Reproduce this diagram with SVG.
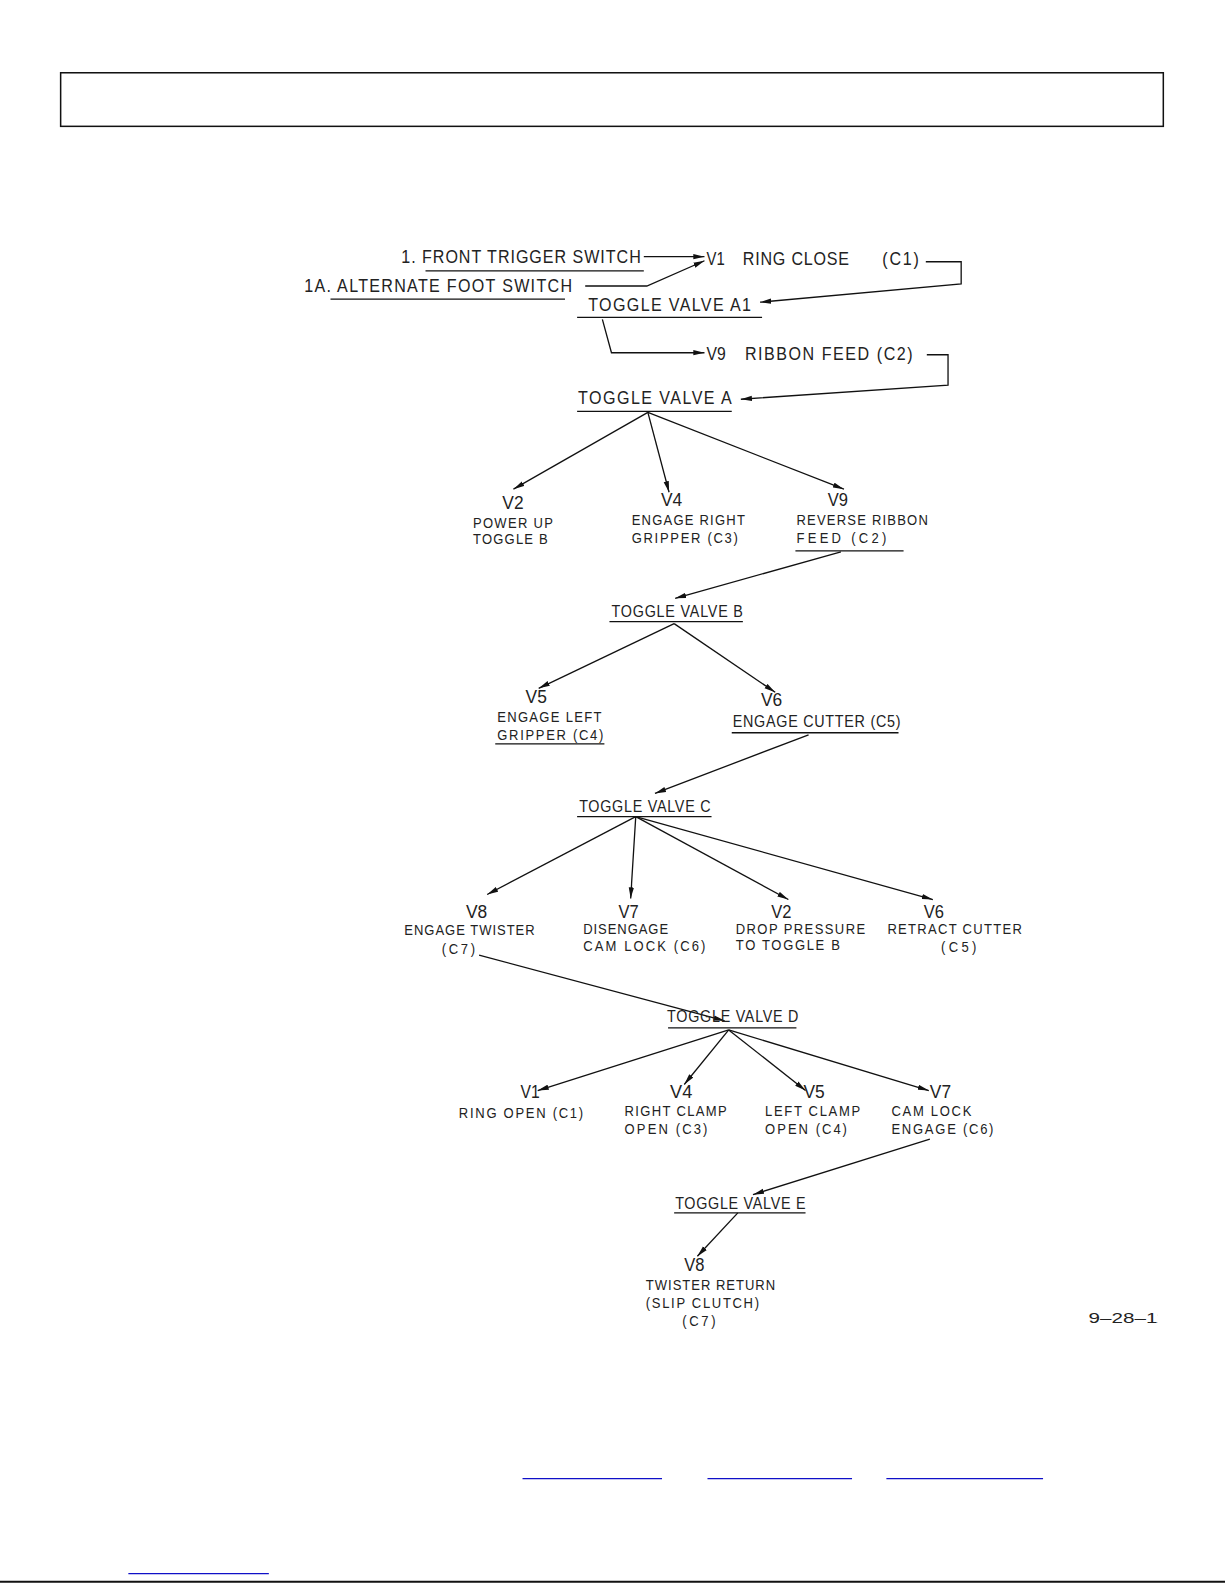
<svg xmlns="http://www.w3.org/2000/svg" width="1225" height="1585" viewBox="0 0 1225 1585">
<style>
text{font-family:"Liberation Sans",Arial,sans-serif;fill:#222;}
.lg{font-size:18.5px;}
.md{font-size:16.5px;}
.sm{font-size:15px;}
.ul{stroke:#111;stroke-width:1.3;fill:none;}
.cn{stroke:#111;stroke-width:1.3;fill:none;marker-end:url(#ah);}
.bl{stroke:#1010c8;stroke-width:1.3;}
</style>
<defs>
<marker id="ah" markerUnits="userSpaceOnUse" markerWidth="12" markerHeight="6" refX="11" refY="3" orient="auto">
<path d="M0,0.4 L11,3 L0,5.6 Z" fill="#111"/>
</marker>
<clipPath id="dclip"><rect x="1000" y="1280" width="145" height="40"/></clipPath>
</defs>
<rect width="1225" height="1585" fill="#fff"/>
<g transform="scale(1.0107)">
<g id="header"><rect x="60" y="72" width="1091" height="53" fill="none" stroke="#111" stroke-width="1.5"/></g>

<g id="connectors">
<path class="cn" d="M637,254 L697,254"/>
<path class="cn" d="M579,283 L640,283 L697,258"/>
<path class="cn" d="M916,259 L951,259 L951,281 L752,299"/>
<path class="cn" d="M596,316 L605,349 L697,349"/>
<path class="cn" d="M917,351 L938,351 L938,381 L733,395"/>
<path class="cn" d="M641,408 L508,484"/>
<path class="cn" d="M641,408 L662,487"/>
<path class="cn" d="M641,408 L835,484"/>
<path class="cn" d="M832,546 L668,592"/>
<path class="cn" d="M667,617 L533,681"/>
<path class="cn" d="M667,617 L767,685"/>
<path class="cn" d="M800,727 L648,785"/>
<path class="cn" d="M629,808 L482,885"/>
<path class="cn" d="M629,808 L624,889"/>
<path class="cn" d="M629,808 L780,890"/>
<path class="cn" d="M629,808 L923,890"/>
<path class="cn" d="M474,945 L717,1010"/>
<path class="cn" d="M721,1019 L532,1079"/>
<path class="cn" d="M721,1019 L677,1073"/>
<path class="cn" d="M721,1019 L797,1079"/>
<path class="cn" d="M721,1019 L919,1079"/>
<path class="cn" d="M920,1127 L745,1182"/>
<path class="cn" d="M730,1200 L690,1243"/>
</g>

<g id="front-trigger">
<text class="lg" transform="translate(397,260) scale(0.86,1)" textLength="275.6" lengthAdjust="spacing">1. FRONT TRIGGER SWITCH</text>
<line class="ul" x1="421" y1="268" x2="637" y2="268"/>
</g>
<g id="foot-switch">
<text class="lg" transform="translate(301,289) scale(0.86,1)" textLength="308.1" lengthAdjust="spacing">1A. ALTERNATE FOOT SWITCH</text>
<line class="ul" x1="327" y1="296" x2="559" y2="296"/>
</g>
<g id="v1-ring-close">
<text class="lg" x="699" y="262" textLength="18" lengthAdjust="spacingAndGlyphs">V1</text>
<text class="lg" transform="translate(735,262) scale(0.86,1)" textLength="122.1" lengthAdjust="spacing">RING CLOSE</text>
<text class="lg" transform="translate(873,262) scale(0.86,1)" textLength="41.9" lengthAdjust="spacing">(C1)</text>
</g>
<g id="toggle-a1">
<text class="lg" transform="translate(582,308) scale(0.86,1)" textLength="187.2" lengthAdjust="spacing">TOGGLE VALVE A1</text>
<line class="ul" x1="571" y1="314" x2="754" y2="314"/>
</g>
<g id="v9-ribbon-feed">
<text class="lg" x="699" y="356" textLength="19" lengthAdjust="spacingAndGlyphs">V9</text>
<text class="lg" transform="translate(737,356) scale(0.86,1)" textLength="193" lengthAdjust="spacing">RIBBON FEED (C2)</text>
</g>
<g id="toggle-a">
<text class="lg" transform="translate(572,400) scale(0.86,1)" textLength="176.7" lengthAdjust="spacing">TOGGLE VALVE A</text>
<line class="ul" x1="571" y1="407" x2="724" y2="407" stroke-width="2"/>
</g>
<g id="v2-power-up">
<text class="lg" x="497" y="504" textLength="21" lengthAdjust="spacingAndGlyphs">V2</text>
<text class="sm" transform="translate(468,522) scale(0.86,1)" textLength="91.9" lengthAdjust="spacing">POWER UP</text>
<text class="sm" transform="translate(468,538) scale(0.86,1)" textLength="86" lengthAdjust="spacing">TOGGLE B</text>
</g>
<g id="v4-engage-right">
<text class="lg" x="654" y="501" textLength="21" lengthAdjust="spacingAndGlyphs">V4</text>
<text class="sm" transform="translate(625,519) scale(0.86,1)" textLength="130.2" lengthAdjust="spacing">ENGAGE RIGHT</text>
<text class="sm" transform="translate(625,537) scale(0.86,1)" textLength="122.1" lengthAdjust="spacing">GRIPPER (C3)</text>
</g>
<g id="v9-reverse">
<text class="lg" x="819" y="501" textLength="20" lengthAdjust="spacingAndGlyphs">V9</text>
<text class="sm" transform="translate(788,519) scale(0.86,1)" textLength="151.2" lengthAdjust="spacing">REVERSE RIBBON</text>
<text class="sm" transform="translate(788,537) scale(0.86,1)" textLength="103.5" lengthAdjust="spacing">FEED  (C2)</text>
<line class="ul" x1="787" y1="545" x2="894" y2="545"/>
</g>
<g id="toggle-b">
<text class="md" transform="translate(605,610) scale(0.86,1)" textLength="151.2" lengthAdjust="spacing">TOGGLE VALVE B</text>
<line class="ul" x1="603" y1="615" x2="735" y2="615"/>
</g>
<g id="v5-engage-left">
<text class="lg" x="520" y="696" textLength="21" lengthAdjust="spacingAndGlyphs">V5</text>
<text class="sm" transform="translate(492,714) scale(0.86,1)" textLength="119.8" lengthAdjust="spacing">ENGAGE LEFT</text>
<text class="sm" transform="translate(492,732) scale(0.86,1)" textLength="122.1" lengthAdjust="spacing">GRIPPER (C4)</text>
<line class="ul" x1="490" y1="736" x2="598" y2="736"/>
</g>
<g id="v6-engage-cutter">
<text class="lg" x="753" y="699" textLength="21" lengthAdjust="spacingAndGlyphs">V6</text>
<text class="md" transform="translate(725,719) scale(0.86,1)" textLength="193" lengthAdjust="spacing">ENGAGE CUTTER (C5)</text>
<line class="ul" x1="724" y1="725" x2="889" y2="725"/>
</g>
<g id="toggle-c">
<text class="md" transform="translate(573,803) scale(0.86,1)" textLength="151.2" lengthAdjust="spacing">TOGGLE VALVE C</text>
<line class="ul" x1="571" y1="808" x2="704" y2="808"/>
</g>
<g id="v8-engage-twister">
<text class="lg" x="461" y="908" textLength="21" lengthAdjust="spacingAndGlyphs">V8</text>
<text class="sm" transform="translate(400,925) scale(0.86,1)" textLength="150" lengthAdjust="spacing">ENGAGE TWISTER</text>
<text class="sm" transform="translate(437,944) scale(0.86,1)" textLength="38.4" lengthAdjust="spacing">(C7)</text>
</g>
<g id="v7-disengage">
<text class="lg" x="612" y="908" textLength="20" lengthAdjust="spacingAndGlyphs">V7</text>
<text class="sm" transform="translate(577,924) scale(0.86,1)" textLength="97.7" lengthAdjust="spacing">DISENGAGE</text>
<text class="sm" transform="translate(577,941) scale(0.86,1)" textLength="140.7" lengthAdjust="spacing">CAM LOCK (C6)</text>
</g>
<g id="v2-drop-pressure">
<text class="lg" x="763" y="908" textLength="20" lengthAdjust="spacingAndGlyphs">V2</text>
<text class="sm" transform="translate(728,924) scale(0.86,1)" textLength="148.8" lengthAdjust="spacing">DROP PRESSURE</text>
<text class="sm" transform="translate(728,940) scale(0.86,1)" textLength="119.8" lengthAdjust="spacing">TO TOGGLE B</text>
</g>
<g id="v6-retract-cutter">
<text class="lg" x="914" y="908" textLength="20" lengthAdjust="spacingAndGlyphs">V6</text>
<text class="sm" transform="translate(878,924) scale(0.86,1)" textLength="154.7" lengthAdjust="spacing">RETRACT CUTTER</text>
<text class="sm" transform="translate(931,942) scale(0.86,1)" textLength="40.7" lengthAdjust="spacing">(C5)</text>
</g>
<g id="toggle-d">
<text class="md" transform="translate(660,1011) scale(0.86,1)" textLength="151.2" lengthAdjust="spacing">TOGGLE VALVE D</text>
<line class="ul" x1="661" y1="1017" x2="788" y2="1017"/>
</g>
<g id="v1-ring-open">
<text class="lg" x="515" y="1086" textLength="19" lengthAdjust="spacingAndGlyphs">V1</text>
<text class="sm" transform="translate(454,1106) scale(0.86,1)" textLength="143" lengthAdjust="spacing">RING OPEN (C1)</text>
</g>
<g id="v4-right-clamp">
<text class="lg" x="663" y="1086" textLength="22" lengthAdjust="spacingAndGlyphs">V4</text>
<text class="sm" transform="translate(618,1104) scale(0.86,1)" textLength="117.4" lengthAdjust="spacing">RIGHT CLAMP</text>
<text class="sm" transform="translate(618,1122) scale(0.86,1)" textLength="95.3" lengthAdjust="spacing">OPEN (C3)</text>
</g>
<g id="v5-left-clamp">
<text class="lg" x="795" y="1086" textLength="21" lengthAdjust="spacingAndGlyphs">V5</text>
<text class="sm" transform="translate(757,1104) scale(0.86,1)" textLength="109.3" lengthAdjust="spacing">LEFT CLAMP</text>
<text class="sm" transform="translate(757,1122) scale(0.86,1)" textLength="94.2" lengthAdjust="spacing">OPEN (C4)</text>
</g>
<g id="v7-cam-lock">
<text class="lg" x="920" y="1086" textLength="21" lengthAdjust="spacingAndGlyphs">V7</text>
<text class="sm" transform="translate(882,1104) scale(0.86,1)" textLength="91.9" lengthAdjust="spacing">CAM LOCK</text>
<text class="sm" transform="translate(882,1122) scale(0.86,1)" textLength="117.4" lengthAdjust="spacing">ENGAGE (C6)</text>
</g>
<g id="toggle-e">
<text class="md" transform="translate(668,1196) scale(0.86,1)" textLength="150" lengthAdjust="spacing">TOGGLE VALVE E</text>
<line class="ul" x1="667" y1="1200" x2="797" y2="1200"/>
</g>
<g id="v8-twister-return">
<text class="lg" x="677" y="1258" textLength="20" lengthAdjust="spacingAndGlyphs">V8</text>
<text class="sm" transform="translate(639,1276) scale(0.86,1)" textLength="148.8" lengthAdjust="spacing">TWISTER RETURN</text>
<text class="sm" transform="translate(639,1294) scale(0.86,1)" textLength="130.2" lengthAdjust="spacing">(SLIP CLUTCH)</text>
<text class="sm" transform="translate(675,1312) scale(0.86,1)" textLength="38.4" lengthAdjust="spacing">(C7)</text>
</g>
<g id="date" clip-path="url(#dclip)">
<text class="sm" x="1077" y="1309" textLength="78" lengthAdjust="spacingAndGlyphs">9–28–11</text>
</g>

<g id="footer">
<line class="bl" x1="517" y1="1463" x2="655" y2="1463"/>
<line class="bl" x1="700" y1="1463" x2="843" y2="1463"/>
<line class="bl" x1="877" y1="1463" x2="1032" y2="1463"/>
<line class="bl" x1="127" y1="1557" x2="266" y2="1557"/>
<line x1="0" y1="1565" x2="1225" y2="1565" stroke="#111" stroke-width="1.8"/>
</g>
</g>
</svg>
